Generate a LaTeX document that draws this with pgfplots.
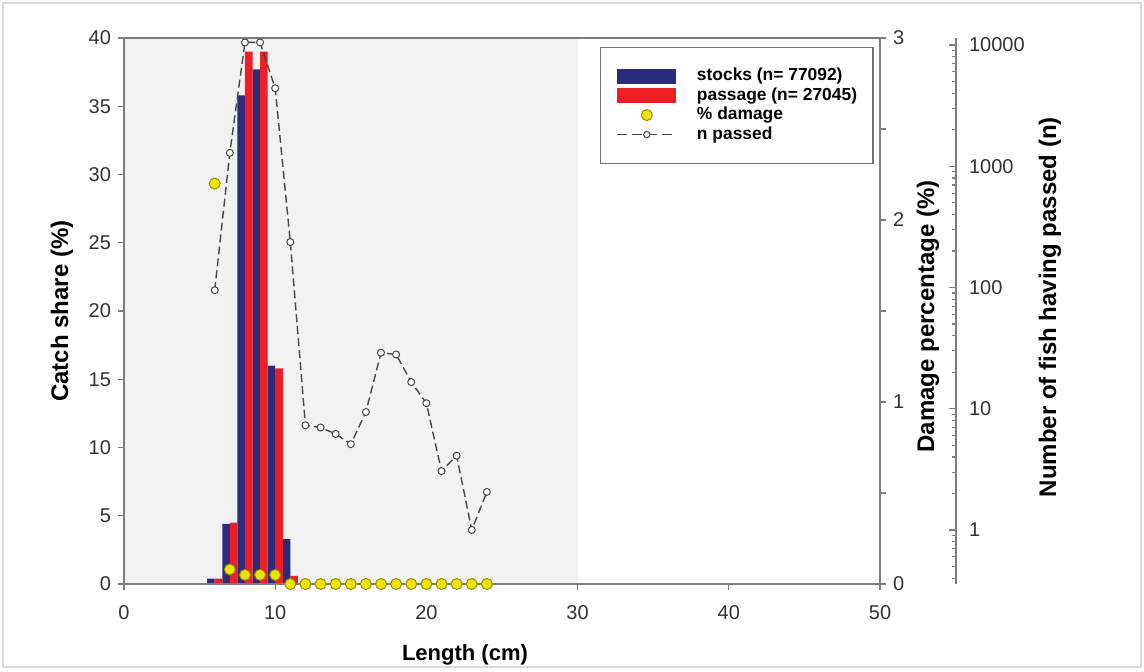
\documentclass[border=0pt]{standalone}
\usepackage{fontspec}
\setmainfont{Liberation Sans}
\usepackage{pgfplots}
\pgfplotsset{compat=1.18}
\definecolor{navybar}{RGB}{43,42,124}
\definecolor{redbar}{RGB}{236,30,38}
\definecolor{dotyellow}{RGB}{240,228,0}
\definecolor{dotedge}{RGB}{150,140,0}
\definecolor{bgshade}{RGB}{242,242,242}
\definecolor{axgray}{RGB}{125,125,125}
\definecolor{linegray}{RGB}{70,70,70}
\pgfplotsset{
  base/.style={at={(62pt,43pt)}, anchor=south west, scale only axis, height=273pt,
   /pgf/number format/assume math mode=true,
   tick label style={font=\fontsize{10}{12}\selectfont, text=black!80},
   axis line style={axgray, line width=0.7pt},
   every tick/.style={axgray, line width=0.6pt},
   major tick length=3pt, minor tick length=2pt,
  },
}
\begin{document}
\begin{tikzpicture}
\fill[white] (0,0) rectangle (572pt,335pt);
\draw[black!15, line width=0.6pt] (1.5pt,1.5pt) rectangle (570.5pt,333.5pt);
% main axis: catch share
\begin{axis}[base, width=378pt, xmin=0, xmax=50, ymin=0, ymax=40,
  xtick={0,10,...,50}, ytick={0,5,...,40}, tick align=outside, tick pos=left,
  axis on top,
  xticklabel style={yshift=-4pt},
  xlabel={Length (cm)}, ylabel={Catch share (\%)},
  xlabel style={at={(axis description cs:0.451,-0.13)}, anchor=center, font=\bfseries\fontsize{11}{13}\selectfont},
  ylabel style={at={(axis description cs:-0.082,0.5)}, anchor=center, font=\bfseries\fontsize{12}{14}\selectfont},
]
\fill[bgshade] (axis cs:0,0) rectangle (axis cs:30,40);
\addplot[ybar, bar width=0.5, bar shift=-0.25, fill=navybar, draw=none] coordinates {
 (6,0.4) (7,4.4) (8,35.8) (9,37.7) (10,16.0) (11,3.3)};
\addplot[ybar, bar width=0.5, bar shift=0.25, fill=redbar, draw=none] coordinates {
 (6,0.4) (7,4.5) (8,39.0) (9,39.0) (10,15.8) (11,0.6)};
\end{axis}
% damage axis
\begin{axis}[base, width=378pt, xmin=0, xmax=50, ymin=0, ymax=3,
  hide x axis, axis y line*=right, ytick={0,1,2,3}, minor ytick={0.5,1.5,2.5},
  tick align=outside, minor tick length=3pt,
  ylabel={Damage percentage (\%)},
  ylabel style={at={(axis description cs:1.0635,0.49)}, anchor=center, font=\bfseries\fontsize{12}{14}\selectfont},
  clip=false]
\addplot[only marks, mark=*, mark size=2.75pt, mark options={fill=dotyellow, draw=dotedge, line width=0.5pt}] coordinates {
 (6,2.2) (7,0.08) (8,0.05) (9,0.05) (10,0.05) (11,0) (12,0) (13,0) (14,0) (15,0) (16,0) (17,0)
 (18,0) (19,0) (20,0) (21,0) (22,0) (23,0) (24,0)};
\end{axis}
% number passed axis (log)
\begin{axis}[base, width=416pt, xmin=0, xmax=55.03, ymode=log, ymin=0.3585, ymax=11420,
  hide x axis, axis y line*=right,
  ytick={1,10,100,1000,10000}, yticklabels={1,10,100,1000,10000},
  minor ytick={0.4,0.5,0.6,0.7,0.8,0.9,2,3,4,5,6,7,8,9,20,30,40,50,60,70,80,90,200,300,400,500,600,700,800,900,2000,3000,4000,5000,6000,7000,8000,9000},
  tick align=inside, yticklabel style={xshift=3pt}, major tick length=3.5pt, minor tick length=2pt,
  ylabel={Number of fish having passed (n)},
  ylabel style={at={(axis description cs:1.113,0.507)}, anchor=center, font=\bfseries\fontsize{12}{14}\selectfont},
  clip=false,
  legend cell align=left,
  legend style={at={(axis description cs:0.5721,0.9835)}, anchor=north west, draw=black!55, line width=0.6pt,
    fill=white, inner xsep=8pt, inner ysep=10pt, row sep=1.25pt, column sep=10pt,
    font=\bfseries\fontsize{8.7}{10}\selectfont,
    nodes={inner sep=0pt, text height=6.5pt, text depth=2pt}},
]
\addlegendimage{draw=none, legend image code/.code={\fill[navybar] (0pt,-3.75pt) rectangle (29.5pt,3.75pt);}}
\addlegendentry{stocks (n= 77092)}
\addlegendimage{draw=none, legend image code/.code={\fill[redbar] (0pt,-3.75pt) rectangle (29.5pt,3.75pt);}}
\addlegendentry{passage (n= 27045)}
\addlegendimage{draw=none, legend image code/.code={\path[draw=none,fill=none] (0pt,0pt) -- (29.5pt,0pt); \draw[fill=dotyellow, draw=dotedge, line width=0.5pt] (14.75pt,0pt) circle (2.75pt);}}
\addlegendentry{\% damage}
\addlegendimage{draw=none, legend image code/.code={\draw[linegray, line width=0.7pt, dash pattern=on 5pt off 2.5pt] (0pt,0pt) -- (29.5pt,0pt); \draw[linegray, fill=white, line width=0.5pt] (14.75pt,0pt) circle (1.6pt);}}
\addlegendentry{n passed}
\addplot[linegray, line width=0.7pt, dash pattern=on 4pt off 2pt, mark=*, mark size=1.75pt,
  mark options={solid, fill=white, draw=linegray, line width=0.5pt}] coordinates {
 (6,95) (7,1290) (8,10500) (9,10500) (10,4400) (11,237) (12,7.3) (13,7) (14,6.2) (15,5.1)
 (16,9.4) (17,29) (18,28) (19,16.6) (20,11.1) (21,3.06) (22,4.1) (23,1.0) (24,2.06)};
\end{axis}
\end{tikzpicture}
\end{document}
